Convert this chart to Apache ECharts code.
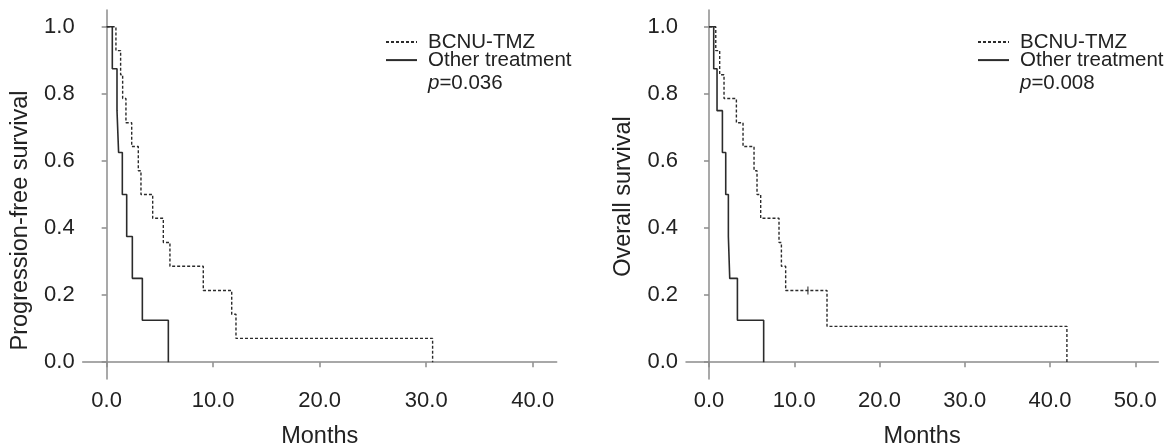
<!DOCTYPE html>
<html>
<head>
<meta charset="utf-8">
<script src="https://cdn.jsdelivr.net/npm/echarts@6/dist/echarts.min.js"></script>
<style>
  html, body { margin: 0; padding: 0; background: #fff; }
  #chart { width: 1175px; height: 446px; }
</style>
</head>
<body>
<div id="chart"></div>
<script>
// ---- Data ----
const seriesNames = ['BCNU-TMZ', 'Other treatment'];

// Progression-free survival (left panel)
const pfsBcnuTime  = [0, 0.87, 1.31, 1.50, 1.81, 2.35, 2.97, 3.22, 4.32, 5.32, 5.94, 9.07, 11.74, 12.14, 30.6];
const pfsBcnuSurv  = [1, 0.929, 0.857, 0.786, 0.714, 0.643, 0.571, 0.5, 0.429, 0.357, 0.286, 0.214, 0.143, 0.071, 0];
const pfsOtherTime = [0, 0.53, 0.97, 1.12, 1.47, 1.88, 2.41, 3.35, 5.79];
const pfsOtherSurv = [1, 0.875, 0.75, 0.625, 0.5, 0.375, 0.25, 0.125, 0];
const pfsPValue = '0.036';

// Overall survival (right panel)
const osBcnuTime  = [0, 0.79, 1.25, 1.76, 3.21, 3.99, 5.28, 5.63, 6.06, 8.21, 8.49, 8.99, 13.84, 41.98];
const osBcnuSurv  = [1, 0.929, 0.857, 0.786, 0.714, 0.643, 0.571, 0.5, 0.429, 0.357, 0.286, 0.214, 0.107, 0];
const osBcnuCensorTime = [11.6];
const osBcnuCensorSurv = [0.214];
const osOtherTime = [0, 0.55, 0.94, 1.57, 1.96, 2.27, 2.43, 3.33, 6.41];
const osOtherSurv = [1, 0.875, 0.75, 0.625, 0.5, 0.375, 0.25, 0.125, 0];
const osPValue = '0.008';

// Tick labels
const yTicks = [0, 0.2, 0.4, 0.6, 0.8, 1.0];
const pfsXTicks = [0, 10, 20, 30, 40];
const osXTicks = [0, 10, 20, 30, 40, 50];

// ---- Chart ----
const zip = (xs, ys) => xs.map((x, i) => [x, ys[i]]);
const FONT = '"Liberation Sans", Arial, sans-serif';
const lineColor = '#2b2b2b';
const axisColor = '#8c8c8c';
const textColor = '#222';

function xAxis(gridIndex, min, max, ticks) {
  return {
    type: 'value', gridIndex, min, max,
    name: 'Months', nameLocation: 'middle', nameGap: 46,
    nameTextStyle: { fontFamily: FONT, fontSize: 23.5, color: textColor },
    axisLine: { show: true, lineStyle: { color: axisColor, width: 1.5 } },
    axisTick: { show: true, length: 5, customValues: ticks, lineStyle: { color: axisColor, width: 1.5 } },
    axisLabel: { customValues: ticks, margin: 11, fontFamily: FONT, fontSize: 22, color: textColor,
                 formatter: v => v.toFixed(1) },
    splitLine: { show: false }
  };
}
function yAxis(gridIndex, name, shiftDown) {
  return {
    type: 'value', gridIndex, min: -0.05, max: 1.05,
    name, nameLocation: 'middle', nameGap: 50,
    nameTextStyle: { fontFamily: FONT, fontSize: 23.5, color: textColor, padding: [0, 2 * shiftDown, 0, 0] },
    axisLine: { show: true, lineStyle: { color: axisColor, width: 1.5 } },
    axisTick: { show: true, length: 5, customValues: yTicks, lineStyle: { color: axisColor, width: 1.5 } },
    axisLabel: { customValues: yTicks, margin: 8, fontFamily: FONT, fontSize: 22, color: textColor,
                 formatter: v => v.toFixed(1) },
    splitLine: { show: false }
  };
}
function kmLine(name, idx, data, dashed) {
  return {
    name, type: 'line', xAxisIndex: idx, yAxisIndex: idx, step: 'end',
    data, symbol: 'none', animation: false,
    lineStyle: dashed ? { color: lineColor, width: 1.4, type: [3, 2] }
                      : { color: lineColor, width: 1.6, type: 'solid' },
    itemStyle: { color: lineColor }
  };
}
function legend(left) {
  return {
    orient: 'vertical', left, top: 31.5, padding: 0, itemGap: -2.9, itemWidth: 31, itemHeight: 2,
    data: seriesNames,
    itemStyle: { opacity: 0 },
    textStyle: { fontFamily: FONT, fontSize: 20.5, color: textColor, padding: [0, 0, 0, 6] },
    selectedMode: false
  };
}
function pText(left, val) {
  return {
    type: 'text', left, top: 72.5,
    style: {
      text: '{i|p}=' + val,
      font: '20.5px ' + FONT, fill: textColor,
      rich: { i: { fontStyle: 'italic', fontFamily: FONT, fontSize: 20.5, fill: textColor } }
    }
  };
}

const chart = echarts.init(document.getElementById('chart'), null, { renderer: 'canvas' });
chart.setOption({
  backgroundColor: '#fff',
  animation: false,
  grid: [
    { left: 82.7, right: 618.3, top: 10, height: 369, containLabel: false, outerBoundsMode: 'none' },
    { left: 686, right: 16.7, top: 10, height: 369, containLabel: false, outerBoundsMode: 'none' }
  ],
  xAxis: [xAxis(0, -2.25, 42.25, pfsXTicks), xAxis(1, -2.7, 52.7, osXTicks)],
  yAxis: [yAxis(0, 'Progression-free survival', 26), yAxis(1, 'Overall survival', 2)],
  legend: [legend(385), legend(977)],
  graphic: [pText(428, pfsPValue), pText(1020, osPValue)],
  series: [
    kmLine('BCNU-TMZ', 0, zip(pfsBcnuTime, pfsBcnuSurv), true),
    kmLine('Other treatment', 0, zip(pfsOtherTime, pfsOtherSurv), false),
    kmLine('BCNU-TMZ', 1, zip(osBcnuTime, osBcnuSurv), true),
    kmLine('Other treatment', 1, zip(osOtherTime, osOtherSurv), false),
    {
      name: 'BCNU-TMZ censored', type: 'scatter', xAxisIndex: 1, yAxisIndex: 1,
      data: zip(osBcnuCensorTime, osBcnuCensorSurv),
      symbol: 'rect', symbolSize: [1.3, 8], itemStyle: { color: lineColor }, animation: false
    }
  ]
});
</script>
</body>
</html>
